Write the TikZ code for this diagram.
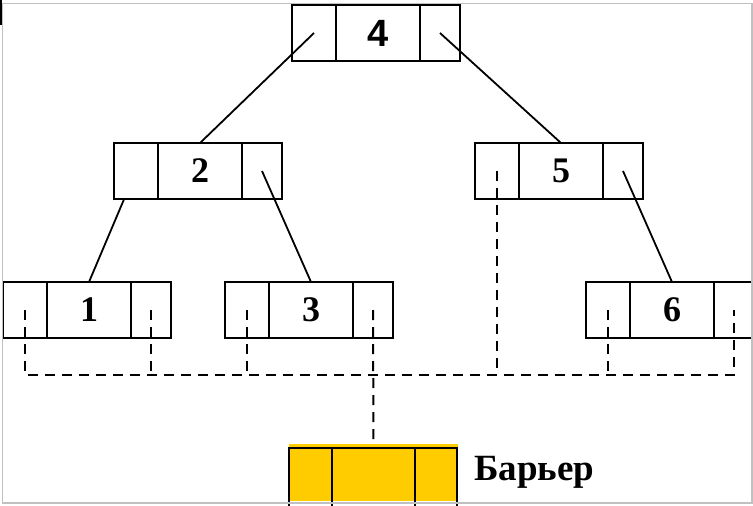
\documentclass[tikz,border=0pt]{standalone}
\usepackage{fontspec}
\setmainfont{Liberation Serif}
\newfontfamily\arialfont{Liberation Sans}
\usetikzlibrary{positioning,calc}
\definecolor{barrieryellow}{HTML}{FFCC00}
\definecolor{framegray}{HTML}{C0C0C0}

\begin{document}
\begin{tikzpicture}[x=1pt,y=-1pt,
		cell/.style={draw,line width=2pt,minimum height=56pt,inner sep=0pt,outer sep=0pt},
		lcell/.style={cell,minimum width=44pt},
		mcell/.style={cell,minimum width=84pt,font=\bfseries\fontsize{36}{36}\selectfont},
		rcell/.style={cell,minimum width=40pt},
		bcell/.style={cell,minimum height=62pt},
		branch/.style={line width=1.8pt},
		link/.style={line width=2pt,dash pattern=on 10pt off 7pt}]
		\useasboundingbox (0,0) rectangle (753,506);
		% tree
		\node[mcell,font=\arialfont\bfseries\fontsize{38}{38}\selectfont] (n4m) at (378,33) {4};
		\node[lcell,left=0pt of n4m] (n4l) {};
		\node[rcell,right=0pt of n4m] (n4r) {};
		\node[mcell] (n2m) at (200,171) {2};
		\node[lcell,left=0pt of n2m] (n2l) {};
		\node[rcell,right=0pt of n2m] (n2r) {};
		\node[mcell] (n5m) at (561,171) {5};
		\node[lcell,left=0pt of n5m] (n5l) {};
		\node[rcell,right=0pt of n5m] (n5r) {};
		\node[mcell] (n1m) at (89,310) {1};
		\node[lcell,left=0pt of n1m] (n1l) {};
		\node[rcell,right=0pt of n1m] (n1r) {};
		\node[mcell] (n3m) at (311,310) {3};
		\node[lcell,left=0pt of n3m] (n3l) {};
		\node[rcell,right=0pt of n3m] (n3r) {};
		\node[mcell] (n6m) at (672,310) {6};
		\node[lcell,left=0pt of n6m] (n6l) {};
		\node[rcell,right=0pt of n6m] (n6r) {};
		% barrier
		\fill[barrieryellow] (289,444) rectangle (458,501);
		\node[bcell,minimum width=83pt] (barm) at (373.5,479) {};
		\node[bcell,minimum width=43pt,left=0pt of barm] (barl) {};
		\node[bcell,minimum width=42pt,right=0pt of barm] (barr) {};
		\node[anchor=west,inner sep=0pt,font=\bfseries\fontsize{37}{37}\selectfont] (barlabel) at ($(barr.east)+(17,-7)$) {Барьер};
		% links
		\draw[branch] (n4l.center) -- (n2m.north);
		\draw[branch] (n4r.center) -- (n5m.north);
		\draw[branch] ($(n2l.center)!.25!(n1m.north)$) -- (n1m.north);
		\draw[branch] (n2r.center) -- (n3m.north);
		\draw[branch] (n5r.center) -- (n6m.north);
		\coordinate (bus) at (0,375);
		\draw[link] (n1l.center) |- (bus -| n6r.center) -- (n6r.center);
		\draw[link] (n1r.center) -- (n1r.center |- bus);
		\draw[link] (n3l.center) -- (n3l.center |- bus);
		\draw[link] (n5l.center) -- (n5l.center |- bus);
		\draw[link] (n6l.center) -- (n6l.center |- bus);
		\draw[link,shorten >=8pt] (n3r.center) -- (barm.north);
		% frame
		\draw[framegray,line width=1.2pt] (2.5,3.5) rectangle (752,503);
		\fill (0,0) rectangle (2,25);
\end{tikzpicture}
\end{document}
